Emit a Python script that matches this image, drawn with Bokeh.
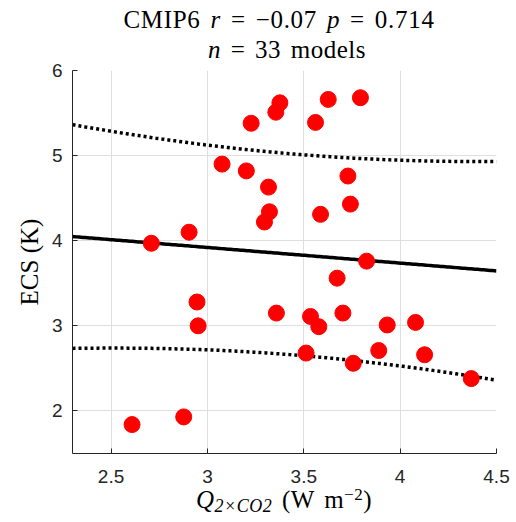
import numpy as np
from bokeh.plotting import figure
from bokeh.layouts import column
from bokeh.models import Range1d, FixedTicker, NumeralTickFormatter, Div
from bokeh.embed import file_html
from bokeh.resources import INLINE

# ---- data ----
q2x = [2.709, 2.905, 3.076, 3.202, 3.317, 3.322, 3.296, 3.227, 3.355, 3.376,
       3.627, 3.794, 3.561, 3.729, 3.742, 3.587, 3.826, 3.673, 3.358, 3.535,
       3.578, 3.703, 3.933, 4.080, 3.889, 4.127, 3.512, 3.757, 4.369, 2.946,
       2.952, 2.877, 2.609]
ecs = [3.97, 4.10, 4.90, 4.82, 4.63, 4.34, 4.22, 5.38, 5.51, 5.62,
       5.66, 5.68, 5.39, 4.76, 4.43, 4.31, 3.76, 3.56, 3.15, 3.11,
       2.99, 3.15, 3.01, 3.04, 2.71, 2.66, 2.68, 2.56, 2.38, 3.28,
       3.00, 1.93, 1.84]

x_ticks = [2.5, 3, 3.5, 4, 4.5]
y_ticks = [2, 3, 4, 5, 6]
x_lim = (2.3, 4.5)
y_lim = (1.5, 6)
r_text, p_text, n_text = "\u22120.07", "0.714", "33"

# ---- regression + 1-sigma prediction band ----
x = np.array(q2x)
y = np.array(ecs)
n = len(x)
b, a = np.polyfit(x, y, 1)
s = np.sqrt(np.sum((y - (a + b * x)) ** 2) / (n - 2))
xm = x.mean()
sxx = np.sum((x - xm) ** 2)
xf = np.linspace(x_lim[0], x_lim[1], 200)
yf = a + b * xf
half = s * np.sqrt(1 + 1 / n + (xf - xm) ** 2 / sxx)

# ---- layout constants (page pixels) ----
W = 516
FL, FR = 72, 20
TITLE_H = 60
MAIN_TOP, FH, MAIN_BOT = 10, 383, 38
MAIN_H = MAIN_TOP + FH + MAIN_BOT
BOT_H = 522 - TITLE_H - MAIN_H
AX = "#262626"
SERIF = "Liberation Serif"
SANS = "Liberation Sans"

LINE = ("position:absolute;width:400px;text-align:center;white-space:nowrap;"
        "line-height:25px;word-spacing:3px;")
title_html = (
    f'<div style="position:relative;width:{W}px;height:{TITLE_H}px;'
    f"font-family:'{SERIF}';font-size:25px;color:black;\">"
    f'<div style="{LINE}left:79px;top:7px;letter-spacing:0.7px;">'
    f'CMIP6 <i>r</i> = {r_text} <i>p</i> = {p_text}</div>'
    f'<div style="{LINE}left:87px;top:37px;letter-spacing:0.5px;">'
    f'<i>n</i> = {n_text} models</div>'
    "</div>"
)
title_div = Div(text=title_html, width=W, height=TITLE_H, margin=0,
                styles={"overflow": "visible"})

xlabel_html = (
    f'<div style="position:relative;width:{W}px;height:{BOT_H}px;'
    f"font-family:'{SERIF}';font-size:25px;color:black;\">"
    '<div style="position:absolute;left:84px;width:400px;top:0px;text-align:center;'
    'white-space:nowrap;line-height:18px;word-spacing:3px;letter-spacing:0.5px;">'
    '<i>Q</i><span style="font-size:18px;line-height:0;vertical-align:-4px;">'
    '<i>2\u00d7CO2</i></span> (W m'
    '<span style="font-size:17px;line-height:0;vertical-align:8px;">\u22122</span>)'
    "</div></div>"
)
xlabel_div = Div(text=xlabel_html, width=W, height=BOT_H, margin=0,
                 styles={"overflow": "visible"})

# ---- main plot ----
p = figure(width=W, height=MAIN_H, x_range=Range1d(*x_lim), y_range=Range1d(*y_lim),
           output_backend="svg", toolbar_location=None, title=None,
           min_border_left=FL, min_border_right=FR,
           min_border_top=MAIN_TOP, min_border_bottom=MAIN_BOT)
p.outline_line_color = None
p.background_fill_color = "white"
p.border_fill_color = "white"
for ax in (p.xaxis[0], p.yaxis[0]):
    ax.axis_line_color = AX
    ax.axis_line_width = 1
    ax.major_tick_line_color = AX
    ax.major_tick_in = 5
    ax.major_tick_out = 0
    ax.minor_tick_line_color = None
    ax.major_label_text_font = SANS
    ax.major_label_text_font_size = "19px"
    ax.major_label_text_color = AX
    ax.formatter = NumeralTickFormatter(format="0.[0]")
p.xaxis.ticker = FixedTicker(ticks=x_ticks)
p.yaxis.ticker = FixedTicker(ticks=y_ticks)
p.xaxis.major_label_standoff = 16
p.yaxis.major_label_standoff = 10
p.yaxis.axis_label = "ECS (K)"
p.yaxis.axis_label_text_font = SERIF
p.yaxis.axis_label_text_font_size = "25px"
p.yaxis.axis_label_text_font_style = "normal"
p.yaxis.axis_label_text_color = "black"
p.yaxis.axis_label_standoff = 6
p.xgrid.ticker = FixedTicker(ticks=x_ticks)
p.ygrid.ticker = FixedTicker(ticks=y_ticks)
for g in (p.xgrid[0], p.ygrid[0]):
    g.grid_line_color = "#dfdfdf"
    g.grid_line_width = 1

p.line(xf, yf, line_color="black", line_width=3.5)
p.line(xf, yf + half, line_color="black", line_width=3.5, line_dash="3 3")
p.line(xf, yf - half, line_color="black", line_width=3.5, line_dash="3 3")
p.scatter(q2x, ecs, size=16, fill_color="#ff0000", line_color="#ff0000")

layout = column(title_div, p, xlabel_div, spacing=0)
open("out.html", "w").write(file_html(layout, INLINE))
